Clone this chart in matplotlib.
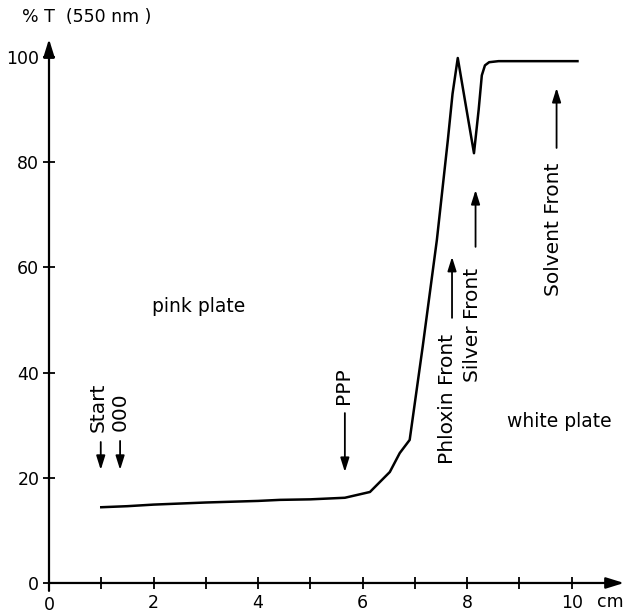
import matplotlib
matplotlib.use('Agg')
import matplotlib.pyplot as plt

plt.rcParams.update({'font.family': 'DejaVu Sans', 'font.size': 12.5})

# densitometer trace, %T at 550 nm vs distance (cm)
dist_cm = [1.0, 1.5, 2.0, 3.0, 4.0, 4.42, 5.0, 5.66, 6.14, 6.52, 6.71, 6.90,
           7.15, 7.42, 7.63, 7.72, 7.82, 7.97, 8.13, 8.22, 8.28, 8.34, 8.42,
           8.6, 9.0, 10.11]
trans = [14.4, 14.6, 14.9, 15.3, 15.6, 15.8, 15.9, 16.2, 17.3, 21.1, 24.7, 27.2,
         45.0, 65.2, 84.2, 93.0, 99.8, 91.0, 81.7, 90.0, 96.5, 98.4, 99.0,
         99.2, 99.2, 99.2]

XTICKS_MAJ = [2, 4, 6, 8, 10]
XTICKS_MIN = [1, 3, 5, 7, 9]
YTICKS = [0, 20, 40, 60, 80, 100]

# marker arrows: label, arrow x, label x, label centre (y), arrow tail, arrow tip
MARKS = [('Start', 0.99, 0.94, 33.3, 26.8, 21.5),
         ('000', 1.36, 1.36, 32.5, 27.0, 21.5),
         ('PPP', 5.66, 5.64, 37.5, 32.3, 21.1),
         ('Phloxin Front', 7.71, 7.62, 35.0, 50.4, 62.0),
         ('Silver Front', 8.16, 8.10, 49.0, 63.9, 74.7),
         ('Solvent Front', 9.71, 9.66, 67.3, 82.7, 94.1)]

fig = plt.figure(figsize=(6.25, 6.16), dpi=100)
ax = fig.add_axes([0.0784, 0.0536, 0.92, 0.8847])
ax.set_xlim(0, 11.0)
ax.set_ylim(0, 103.6)

ax.plot(dist_cm, trans, color='k', lw=1.8, solid_joinstyle='round')

for s in ('top', 'right', 'left', 'bottom'):
    ax.spines[s].set_visible(False)
arr = dict(arrowstyle='-|>,head_length=0.9,head_width=0.28', color='k', lw=1.6,
           shrinkA=0, shrinkB=0, mutation_scale=12)
ax.annotate('', xy=(11.0, 0), xytext=(0, 0), arrowprops=arr, annotation_clip=False)
ax.annotate('', xy=(0, 103.4), xytext=(0, -1.5), arrowprops=arr, annotation_clip=False)

ax.set_xticks(XTICKS_MAJ)
ax.set_xticks(XTICKS_MIN, minor=True)
ax.set_yticks(YTICKS)
ax.tick_params(axis='both', which='both', direction='inout', length=8, width=1.3)
ax.tick_params(axis='x', pad=4)
ax.tick_params(axis='y', pad=3)
ax.text(0, -4.1, '0', ha='center', va='center')
ax.text(11.0, -3.6, 'cm', ha='right', va='center')

fig.text(22 / 625, 1 - 17 / 616, '% T  (550 nm )', ha='left', va='center', fontsize=12.5)

for lab, xa, xt, yc, tail, tip in MARKS:
    ax.text(xt, yc, lab, rotation=90, ha='center', va='center', fontsize=14.5)
    ax.annotate('', xy=(xa, tip), xytext=(xa, tail),
                arrowprops=dict(arrowstyle='-|>,head_length=0.7,head_width=0.22',
                                color='k', lw=1.3, shrinkA=0, shrinkB=0, mutation_scale=12))

ax.text(2.87, 52.6, 'pink plate', ha='center', va='center', fontsize=13.5)
ax.text(9.77, 30.7, 'white plate', ha='center', va='center', fontsize=13.5)

fig.savefig('out.png', dpi=100)
